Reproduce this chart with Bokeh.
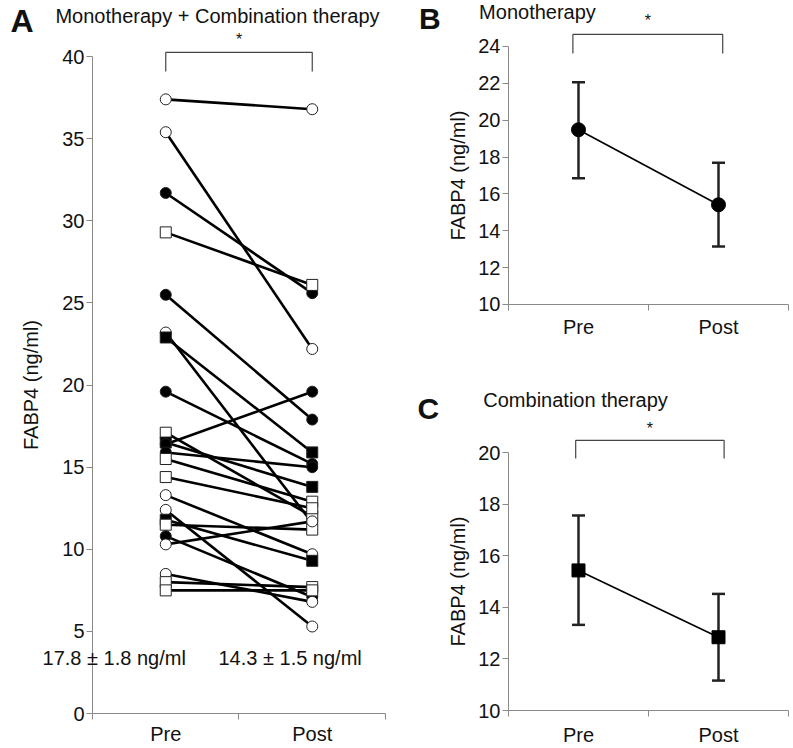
from bokeh.plotting import figure
from bokeh.layouts import row, column
from bokeh.models import FixedTicker, Label, Whisker, TeeHead, ColumnDataSource, Range1d
from bokeh.embed import file_html
from bokeh.resources import INLINE

# ---------------- data ----------------
categories = ["Pre", "Post"]

# Panel A: individual patients (Pre, Post)
pre_values = [37.4, 35.4, 31.7, 29.3, 25.5, 23.2, 22.9, 19.6, 17.1, 16.5, 16.4, 15.9,
              15.5, 14.4, 13.3, 12.4, 11.8, 11.5, 10.8, 10.3, 8.5, 8.0, 7.5]
post_values = [36.8, 22.2, 25.6, 26.1, 17.9, 11.6, 15.9, 15.2, 12.0, 13.8, 19.6, 15.0,
               12.9, 12.5, 9.7, 5.3, 9.3, 11.2, 7.1, 11.7, 6.8, 7.7, 7.5]
marker_shapes = ["circle", "circle", "circle", "square", "circle", "circle", "square", "circle",
                 "square", "square", "circle", "circle", "square", "square", "circle", "circle",
                 "square", "square", "circle", "circle", "circle", "square", "square"]
marker_filled = [False, False, True, False, True, False, True, True,
                 False, True, True, True, False, False, False, False,
                 True, False, True, False, False, False, False]
summary_text = ["17.8 \u00b1 1.8 ng/ml", "14.3 \u00b1 1.5 ng/ml"]

# Panel B: monotherapy mean with error bars
mono_mean = [19.48, 15.41]
mono_upper = [22.06, 17.69]
mono_lower = [16.85, 13.15]

# Panel C: combination therapy mean with error bars
combo_mean = [15.43, 12.84]
combo_upper = [17.56, 14.52]
combo_lower = [13.32, 11.16]

a_ticks = [0, 5, 10, 15, 20, 25, 30, 35, 40]
b_ticks = [10, 12, 14, 16, 18, 20, 22, 24]
c_ticks = [10, 12, 14, 16, 18, 20]

# ---------------- style ----------------
FONT = "Liberation Sans"
AXIS_COLOR = "#8a8a8a"
TEXT_COLOR = "#111111"
xpos = [i + 0.5 for i in range(len(categories))]


def base_fig(w, h, xr, yr, yticks, label_standoff, ytick_standoff, xlabel_standoff):
    p = figure(width=w, height=h, x_range=Range1d(*xr), y_range=Range1d(*yr),
               output_backend="svg", toolbar_location=None, title=None,
               min_border_left=0, min_border_right=0,
               min_border_top=0, min_border_bottom=0)
    p.outline_line_color = None
    p.grid.visible = False
    p.background_fill_color = "white"
    p.border_fill_color = "white"
    # x axis pinned at the lowest y tick; labels at category centres,
    # tick marks between categories
    xa = p.xaxis[0]
    xa.fixed_location = yticks[0]
    xa.ticker = FixedTicker(ticks=xpos, minor_ticks=[0, 1, 2])
    xa.bounds = (0, 2)
    xa.major_label_overrides = {x: c for x, c in zip(xpos, categories)}
    xa.major_tick_in = 0
    xa.major_tick_out = 0
    xa.minor_tick_in = 0
    xa.minor_tick_out = 6
    xa.minor_tick_line_color = AXIS_COLOR
    xa.axis_line_color = AXIS_COLOR
    xa.major_label_text_font = FONT
    xa.major_label_text_font_size = "20px"
    xa.major_label_text_color = TEXT_COLOR
    xa.major_label_standoff = xlabel_standoff
    # y axis pinned at x = 0 so the frame can extend to the left of it
    ya = p.yaxis[0]
    ya.fixed_location = 0
    ya.ticker = FixedTicker(ticks=yticks, minor_ticks=[])
    ya.bounds = (yticks[0], yticks[-1])
    ya.major_tick_in = 0
    ya.major_tick_out = 6
    ya.minor_tick_out = 0
    ya.minor_tick_in = 0
    ya.major_tick_line_color = AXIS_COLOR
    ya.axis_line_color = AXIS_COLOR
    ya.major_label_text_font = FONT
    ya.major_label_text_font_size = "20px"
    ya.major_label_text_color = TEXT_COLOR
    ya.major_label_standoff = ytick_standoff
    ya.axis_label = "FABP4 (ng/ml)"
    ya.axis_label_text_font = FONT
    ya.axis_label_text_font_size = "20px"
    ya.axis_label_text_font_style = "normal"
    ya.axis_label_text_color = TEXT_COLOR
    ya.axis_label_standoff = label_standoff
    return p


def add_text(p, x, y, text, size, bold=False, align="left", baseline="alphabetic"):
    p.add_layout(Label(x=x, y=y, text=text, text_font=FONT, text_font_size=size,
                       text_font_style="bold" if bold else "normal",
                       text_color=TEXT_COLOR, text_align=align, text_baseline=baseline))


def add_bracket(p, x0, x1, ytop, ybot, ystar):
    p.line(x=[x0, x0, x1, x1], y=[ybot, ytop, ytop, ybot], line_color="#444444", line_width=1.2)
    add_text(p, (x0 + x1) / 2, ystar, "*", "16px", align="center", baseline="middle")


# ---------------- Panel A ----------------
pA = base_fig(400, 748, (-0.628, 2.1024), (-2.13, 43.42), a_ticks, 17, 2, 3)
srcA = ColumnDataSource(dict(
    x0=[xpos[0]] * len(pre_values), x1=[xpos[1]] * len(post_values),
    pre=pre_values, post=post_values, marker=marker_shapes,
    fill=["black" if f else "white" for f in marker_filled]))
pA.segment(x0="x0", y0="pre", x1="x1", y1="post", source=srcA, line_color="black", line_width=2.6)
pA.scatter(x="x0", y="pre", marker="marker", fill_color="fill", line_color="#222222",
           line_width=1, size=11, source=srcA)
pA.scatter(x="x1", y="post", marker="marker", fill_color="fill", line_color="#222222",
           line_width=1, size=11, source=srcA)
add_bracket(pA, xpos[0], xpos[1], 40.26, 39.1, 41.05)
add_text(pA, -0.56, 42.2, "A", "32px", bold=True)
add_text(pA, -0.253, 42.49, "Monotherapy + Combination therapy", "20px")
add_text(pA, -0.341, 3.41, summary_text[0], "20px")
add_text(pA, 0.86, 3.41, summary_text[1], "20px")

# ---------------- Panel B ----------------
pB = base_fig(393, 345, (-0.7714, 2.0357), (7.775, 26.49), b_ticks, 6, 2, 6)
srcB = ColumnDataSource(dict(x=xpos, mean=mono_mean, upper=mono_upper, lower=mono_lower))
pB.add_layout(Whisker(source=srcB, base="x", upper="upper", lower="lower",
                      line_color="#222222", line_width=2.5,
                      upper_head=TeeHead(size=13, line_color="#222222", line_width=2.5),
                      lower_head=TeeHead(size=13, line_color="#222222", line_width=2.5)))
pB.line(x="x", y="mean", source=srcB, line_color="black", line_width=1.6)
pB.scatter(x="x", y="mean", source=srcB, marker="circle", size=14, fill_color="black",
           line_color="black")
add_bracket(pB, 0.46, 1.53, 24.65, 23.62, 25.4)
add_text(pB, -0.64, 25.52, "B", "30px", bold=True)
add_text(pB, -0.21, 25.88, "Monotherapy", "20px")

# ---------------- Panel C ----------------
pC = base_fig(393, 403, (-0.7714, 2.0357), (8.527, 24.15), c_ticks, 6, 2, 7)
srcC = ColumnDataSource(dict(x=xpos, mean=combo_mean, upper=combo_upper, lower=combo_lower))
pC.add_layout(Whisker(source=srcC, base="x", upper="upper", lower="lower",
                      line_color="#222222", line_width=2.5,
                      upper_head=TeeHead(size=13, line_color="#222222", line_width=2.5),
                      lower_head=TeeHead(size=13, line_color="#222222", line_width=2.5)))
pC.line(x="x", y="mean", source=srcC, line_color="black", line_width=1.6)
pC.scatter(x="x", y="mean", source=srcC, marker="square", size=13, fill_color="black",
           line_color="black")
add_bracket(pC, 0.48, 1.54, 20.47, 19.77, 20.93)
add_text(pC, -0.65, 21.71, "C", "30px", bold=True)
add_text(pC, -0.18, 22.05, "Combination therapy", "20px")

layout = row(pA, column(pB, pC))

open("out.html", "w").write(file_html(layout, INLINE))
